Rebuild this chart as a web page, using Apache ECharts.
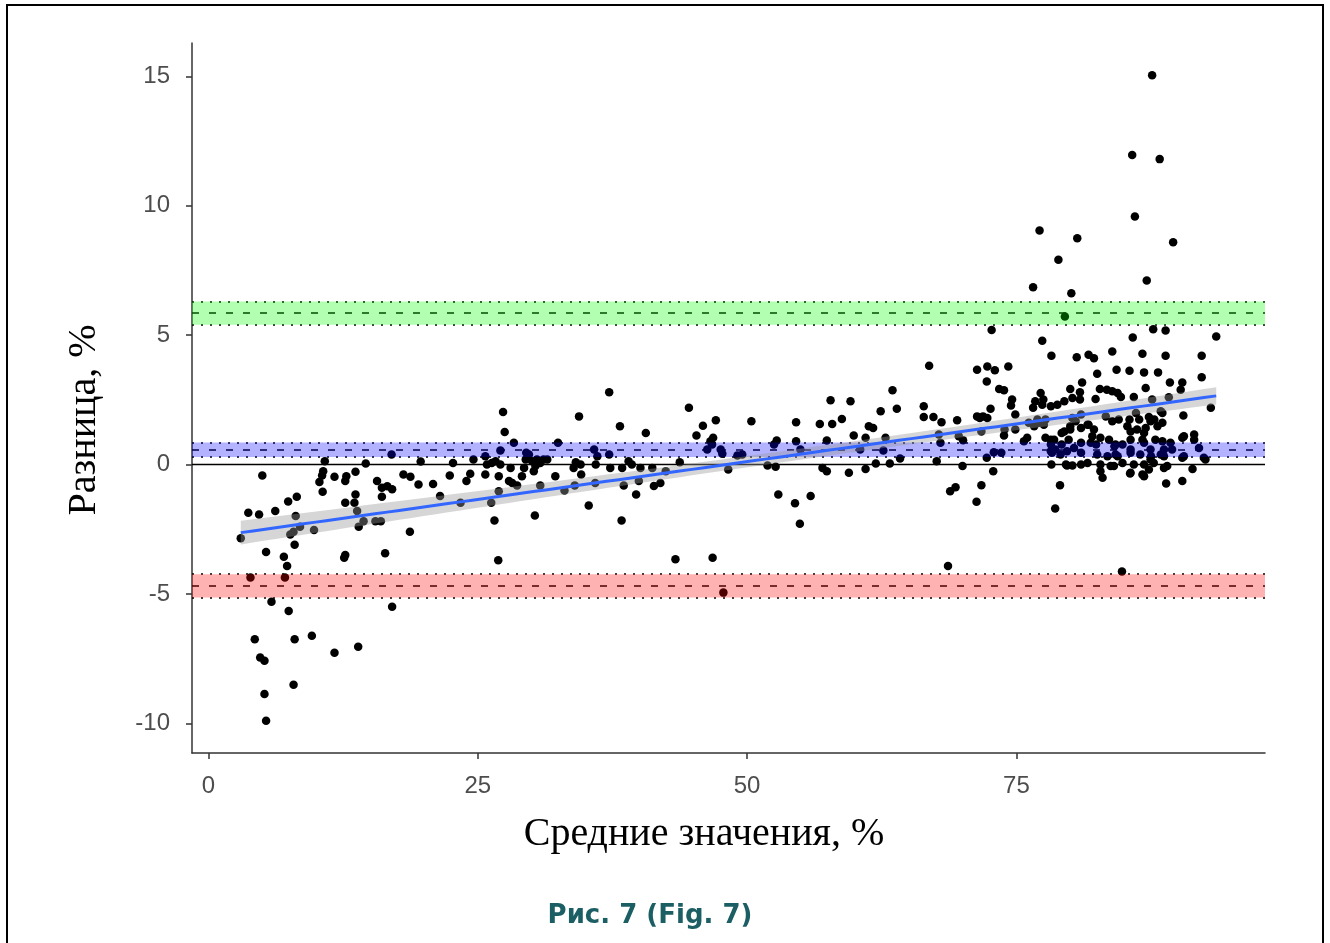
<!DOCTYPE html>
<html>
<head>
<meta charset="utf-8">
<script src="https://cdn.jsdelivr.net/npm/echarts@6/dist/echarts.min.js"></script>
<style>
  html, body { margin: 0; padding: 0; background: #fff; }
  #chart { width: 1330px; height: 943px; }
</style>
</head>
<body>
<div id="chart"></div>
<script>
// средние значения (ось X), %
var meanPct = [
  3.0,3.7,4.7,5.0,5.35,6.2,7.0,7.3,7.4,8.2,
  8.1,7.6,8.0,8.5,9.8,3.9,7.1,5.85,7.45,4.3,
  8.0,9.6,4.8,5.2,11.7,13.9,7.9,5.2,5.35,17.05,
  16.4,12.6,12.7,18.7,10.8,10.65,10.55,10.3,10.6,11.7,
  12.8,12.7,13.65,13.65,13.55,12.7,13.8,14.4,13.95,15.5,
  16.0,14.6,15.65,16.1,16.6,17.05,16.1,18.1,18.75,17.0,
  19.5,19.7,7.9,
  20.85,21.5,22.4,22.7,23.4,23.95,24.3,24.6,25.7,25.85,
  26.3,26.65,27.1,25.7,26.25,26.95,26.95,26.55,26.9,27.35,
  27.5,27.1,28.35,28.05,27.9,28.2,28.65,29.1,29.3,29.45,
  29.75,30.05,30.35,30.5,30.8,31.1,31.45,29.5,30.2,30.8,
  30.3,32.2,32.45,33.05,33.9,34.1,34.55,34.6,34.0,34.4,
  35.3,35.8,35.95,36.1,37.2,35.9,37.2,37.3,38.2,38.35,
  38.4,38.55,39.0,39.3,39.7,39.95,40.1,
  40.6,41.2,41.35,41.95,42.45,43.35,43.75,44.6,45.3,45.9,
  47.1,46.6,46.85,46.3,46.75,47.55,47.7,46.8,47.8,48.25,
  49.1,49.55,50.4,51.9,52.65,52.5,52.75,52.9,54.45,54.9,
  55.9,54.55,54.55,54.95,56.75,57.9,57.4,57.0,57.4,57.75,
  58.8,59.45,59.6,59.9,60.5,61.0,61.3,61.0,
  61.7,61.95,62.4,62.65,62.85,63.25,63.5,63.9,64.2,66.9,
  66.4,66.4,67.3,68.05,67.6,67.95,67.8,68.65,68.85,69.35,
  69.5,69.65,70.05,70.0,71.35,72.3,73.0,72.25,71.35,71.6,
  71.9,72.3,72.6,71.75,71.3,71.75,72.25,72.9,72.85,73.4,
  73.85,74.25,74.6,74.5,73.9,73.85,74.9,73.6,75.7,76.0,
  76.15,76.55,76.75,77.25,77.4,77.4,78.25,78.2,78.5,78.25,
  79.05,78.6,72.7,74.9,
  87.6,85.75,88.3,86.0,77.15,80.65,89.55,78.9,87.1,76.55,
  80.1,79.5,87.7,88.85,85.8,93.55,80.6,81.7,82.2,83.9,
  86.7,88.85,92.2,82.5,84.3,85.5,86.85,88.15,92.2,81.1,
  80.0,80.9,82.75,83.4,83.9,84.4,84.7,87.0,89.25,90.4,
  90.25,79.45,80.2,80.9,82.35,85.9,87.6,89.15,78.2,93.05,
  77.5,78.8,76.95,77.7,80.2,81.0,83.3,83.9,84.5,85.5,
  86.4,87.3,88.55,90.5,79.45,80.0,81.0,81.7,82.2,85.3,
  85.6,86.2,87.0,87.8,88.1,77.7,78.2,79.2,79.85,80.35,
  81.0,81.9,82.4,82.8,83.6,84.2,84.85,85.6,86.7,87.9,
  88.55,89.3,90.4,91.5,91.95,92.4,78.3,79.1,79.7,81.0,
  82.5,83.45,84.4,85.6,86.5,87.5,88.4,90.55,79.7,80.2,
  81.6,82.8,83.75,84.85,85.9,86.85,87.75,89.0,91.35,82.8,
  83.0,85.55,86.85,87.3,88.9,90.4,76.65,77.1,77.55,78.2,
  78.6,79.2,80.0,80.5,79.6,81.6,81.0,82.05,84.1,86.1,
  88.4,86.85,87.45,88.55,90.55,91.5,85.6,86.85,87.45,88.7,
  89.45,84.2,87.45,88.7,84.05,85.6,86.7,88.7,90.4,92.55,
  84.8
];
// разница (ось Y), %
var diffPct = [
  -2.85,-1.86,-1.93,-0.42,-3.38,-1.8,-3.56,-3.92,-1.43,-1.25,
  -1.99,-2.7,-3.1,-2.4,-2.53,-4.37,-4.37,-5.3,-5.66,-6.75,
  -6.75,-6.62,-7.46,-7.58,-7.27,-7.04,-8.51,-8.87,-9.9,-5.5,
  -3.43,-3.6,-3.5,-2.6,0.13,-0.26,-0.42,-0.68,-1.05,-0.47,
  -0.45,-0.64,-0.28,-1.16,-1.48,-1.48,-1.8,-2.19,-2.4,-2.19,
  -2.19,0.04,-0.64,-0.9,-0.84,-0.96,-1.25,-0.39,-0.47,0.39,
  -0.77,0.12,-2.6,
  -0.75,-1.22,-0.42,0.06,-1.48,-0.64,-0.36,0.19,0.32,0.0,
  0.06,0.13,0.0,-0.39,-1.48,-0.45,-1.03,-2.16,-3.7,2.03,
  1.26,0.54,0.84,-0.13,-0.64,-0.71,-0.81,-0.45,-0.13,0.19,
  0.39,0.13,-0.06,0.19,0.06,0.19,0.19,0.45,-0.26,-0.81,
  -1.97,-0.45,0.84,-1.0,-0.13,0.09,0.0,-0.39,-0.81,1.86,
  -1.58,0.58,0.0,0.32,0.39,-0.71,2.79,-0.13,1.48,-2.16,
  -0.13,-0.81,0.13,0.0,-1.16,-0.64,-0.13,
  1.22,-0.13,-0.83,-0.71,-0.26,-3.66,0.09,2.19,1.12,1.5,
  1.71,0.9,1.03,0.58,0.77,0.58,0.42,-3.6,-4.95,-0.19,
  0.35,0.39,1.67,-0.04,-0.09,0.77,0.93,-1.16,-1.5,-2.29,
  -1.22,1.63,0.9,0.58,1.57,1.57,0.93,-0.13,-0.26,2.48,
  1.76,-0.32,2.44,1.12,0.58,1.03,1.48,-0.17,
  1.41,0.04,2.06,0.54,1.03,0.04,2.87,2.15,0.23,3.82,
  2.25,1.84,1.84,1.63,0.13,0.84,1.16,-3.92,-1.03,-0.88,
  1.71,1.09,0.94,-0.06,3.66,3.79,3.64,3.21,1.86,1.8,
  1.86,1.8,2.15,1.28,-1.44,-0.8,0.26,0.47,-0.26,2.92,
  2.87,3.79,2.51,2.28,1.35,1.12,1.35,0.45,0.9,1.03,
  1.61,2.19,2.44,2.76,2.31,4.78,4.2,0.96,0.96,0.0,
  -0.8,-1.7,5.2,1.93,
  15.04,11.96,11.8,9.58,9.04,8.74,8.59,7.91,7.11,6.85,
  6.62,5.72,5.23,5.18,4.91,4.95,4.14,4.24,4.11,4.37,
  4.28,4.2,4.2,3.51,3.66,3.62,3.56,3.56,3.37,3.17,
  2.92,2.79,2.92,2.89,2.83,2.76,2.61,2.96,3.17,3.17,
  2.89,2.44,2.57,2.51,2.53,2.61,2.51,2.6,2.25,2.19,
  2.51,2.31,1.74,1.74,1.8,1.93,1.86,1.67,1.74,1.74,
  1.74,1.84,1.99,1.89,1.28,1.35,1.41,1.54,1.35,1.48,
  1.28,1.35,1.41,1.74,1.48,1.03,0.77,0.77,0.96,0.64,
  0.84,0.84,0.77,1.03,0.96,0.77,0.77,0.96,0.96,0.96,
  0.9,0.84,1.03,1.16,0.64,0.26,0.45,0.39,0.51,0.45,
  0.39,0.32,0.32,0.45,0.39,0.32,0.39,0.32,-0.04,-0.04,
  0.06,0.0,-0.06,0.06,0.0,0.0,0.06,-0.06,-0.17,-0.26,
  -0.51,-0.35,-0.45,-0.19,-0.73,-0.64,1.48,1.61,1.54,0.51,
  0.58,1.22,1.48,1.67,0.0,1.54,0.0,1.09,0.71,1.99,
  2.06,1.22,1.67,1.61,1.09,0.96,0.58,0.84,0.58,0.58,
  0.58,0.39,0.19,0.32,-0.06,-0.32,-0.39,-0.13,0.26,0.19,
  -4.13
];

var xTicks = [0, 25, 50, 75];
var yTicks = [-10, -5, 0, 5, 10, 15];

// верхняя граница, смещение, нижняя граница: [низ ДИ, оценка, верх ДИ]
var bandLow  = [5.40, 0.29, -5.14];
var bandMid  = [5.85, 0.56, -4.69];
var bandHigh = [6.30, 0.85, -4.24];
var bandFill = ['rgba(0,255,0,0.3)', 'rgba(0,0,255,0.3)', 'rgba(255,0,0,0.3)'];

// ---- линейная регрессия + 95% ДИ (как geom_smooth(method = "lm")) ----
function fitLine(xs, ys) {
  var n = xs.length, mx = 0, my = 0, sxx = 0, sxy = 0, sse = 0;
  for (var i = 0; i < n; i++) { mx += xs[i]; my += ys[i]; }
  mx /= n; my /= n;
  for (i = 0; i < n; i++) {
    sxx += (xs[i] - mx) * (xs[i] - mx);
    sxy += (xs[i] - mx) * (ys[i] - my);
  }
  var b = sxy / sxx, a = my - b * mx;
  for (i = 0; i < n; i++) { var r = ys[i] - a - b * xs[i]; sse += r * r; }
  return { a: a, b: b, n: n, mx: mx, sxx: sxx, s: Math.sqrt(sse / (n - 2)) };
}
var fit = fitLine(meanPct, diffPct);
var xLo = Math.min.apply(null, meanPct), xHi = Math.max.apply(null, meanPct);
var yLo = Math.min.apply(null, diffPct), yHi = Math.max.apply(null, diffPct);
var tCrit = 1.966;
var fitGrid = [], ciUp = [], ciDn = [];
for (var k = 0; k <= 80; k++) {
  var gx = xLo + (xHi - xLo) * k / 80;
  var yy = fit.a + fit.b * gx;
  var hw = tCrit * fit.s * Math.sqrt(1 / fit.n + (gx - fit.mx) * (gx - fit.mx) / fit.sxx);
  fitGrid.push([gx, yy]);
  ciUp.push([gx, yy + hw]);
  ciDn.push([gx, yy - hw]);
}

// ggplot-подобное расширение осей на 5%
var xMin = xLo - 0.05 * (xHi - xLo), xMax = xHi + 0.05 * (xHi - xLo);
var yMin = yLo - 0.05 * (yHi - yLo), yMax = yHi + 0.05 * (yHi - yLo);

var hLines = [{ yAxis: 0, lineStyle: { type: 'solid', color: '#000', width: 1.3 } }];
for (var j = 0; j < bandMid.length; j++) {
  hLines.push({ yAxis: bandMid[j],  lineStyle: { type: [7, 10], color: '#000', width: 1.6 } });
  hLines.push({ yAxis: bandLow[j],  lineStyle: { type: [2, 7], color: '#000', width: 1.5 } });
  hLines.push({ yAxis: bandHigh[j], lineStyle: { type: [2, 7], color: '#000', width: 1.5 } });
}

var axisColor = '#333';
var myChart = echarts.init(document.getElementById('chart'), null, { renderer: 'canvas' });
var option = {
  animation: false,
  backgroundColor: '#fff',
  grid: { left: 192, right: 65, top: 43, bottom: 190, containLabel: false, outerBoundsMode: 'none' },
  xAxis: {
    type: 'value', min: xMin, max: xMax,
    axisLine: { show: true, onZero: false, lineStyle: { color: axisColor, width: 1.5 } },
    axisTick: { show: true, length: 6, customValues: xTicks, lineStyle: { color: axisColor, width: 1.5 } },
    axisLabel: { customValues: xTicks, color: '#4d4d4d', fontSize: 24, fontFamily: 'Liberation Sans', margin: 21 },
    splitLine: { show: false }
  },
  yAxis: {
    type: 'value', min: yMin, max: yMax,
    axisLine: { show: true, onZero: false, lineStyle: { color: axisColor, width: 1.5 } },
    axisTick: { show: true, length: 6, customValues: yTicks, lineStyle: { color: axisColor, width: 1.5 } },
    axisLabel: { customValues: yTicks, color: '#4d4d4d', fontSize: 24, fontFamily: 'Liberation Sans', margin: 22 },
    splitLine: { show: false }
  },
  series: [
    {
      type: 'scatter', z: 2,
      data: meanPct.map(function (x, i) { return [x, diffPct[i]]; }),
      symbolSize: 8.5,
      itemStyle: { color: '#000', opacity: 1 },
      emphasis: { disabled: true },
      markLine: {
        z: 3, silent: true, symbol: ['none', 'none'],
        label: { show: false }, emphasis: { disabled: true },
        data: hLines
      }
    },
    {
      // полупрозрачные полосы ДИ поверх точек
      type: 'custom', z: 10, silent: true,
      data: bandLow.map(function (lo, i) { return [lo, bandHigh[i]]; }),
      renderItem: function (params, api) {
        var cs = params.coordSys;
        var yTop = api.coord([0, api.value(1)])[1];
        var yBot = api.coord([0, api.value(0)])[1];
        return {
          type: 'rect',
          shape: { x: cs.x, y: yTop, width: cs.width, height: yBot - yTop },
          style: { fill: bandFill[params.dataIndex] }
        };
      }
    },
    {
      // доверительная область регрессии
      type: 'custom', z: 11, silent: true,
      data: [[0, 0]],
      renderItem: function (params, api) {
        var pts = [];
        ciUp.forEach(function (p) { pts.push(api.coord(p)); });
        ciDn.slice().reverse().forEach(function (p) { pts.push(api.coord(p)); });
        return { type: 'polygon', shape: { points: pts }, style: { fill: 'rgba(153,153,153,0.4)' } };
      }
    },
    {
      type: 'line', z: 12, silent: true,
      data: fitGrid, symbol: 'none',
      lineStyle: { color: '#3366FF', width: 3 }
    }
  ],
  graphic: [
    {
      type: 'rect', z: 100, silent: true,
      shape: { x: 7, y: 5, width: 1316, height: 960 },
      style: { fill: 'none', stroke: '#000', lineWidth: 2 }
    },
    {
      type: 'text', x: 84, y: 420, rotation: Math.PI / 2, z: 100,
      style: { text: 'Разница, %', font: '40px "Liberation Serif"', fill: '#000', align: 'center', verticalAlign: 'middle' }
    },
    {
      type: 'text', x: 704, y: 834, z: 100,
      style: { text: 'Средние значения, %', font: '40px "Liberation Serif"', fill: '#000', align: 'center', verticalAlign: 'middle' }
    },
    {
      type: 'text', x: 650, y: 916, z: 100,
      style: { text: 'Рис. 7 (Fig. 7)', font: 'bold 26px "DejaVu Sans"', fill: '#1b5e63', align: 'center', verticalAlign: 'middle' }
    }
  ]
};
myChart.setOption(option);
</script>
</body>
</html>
